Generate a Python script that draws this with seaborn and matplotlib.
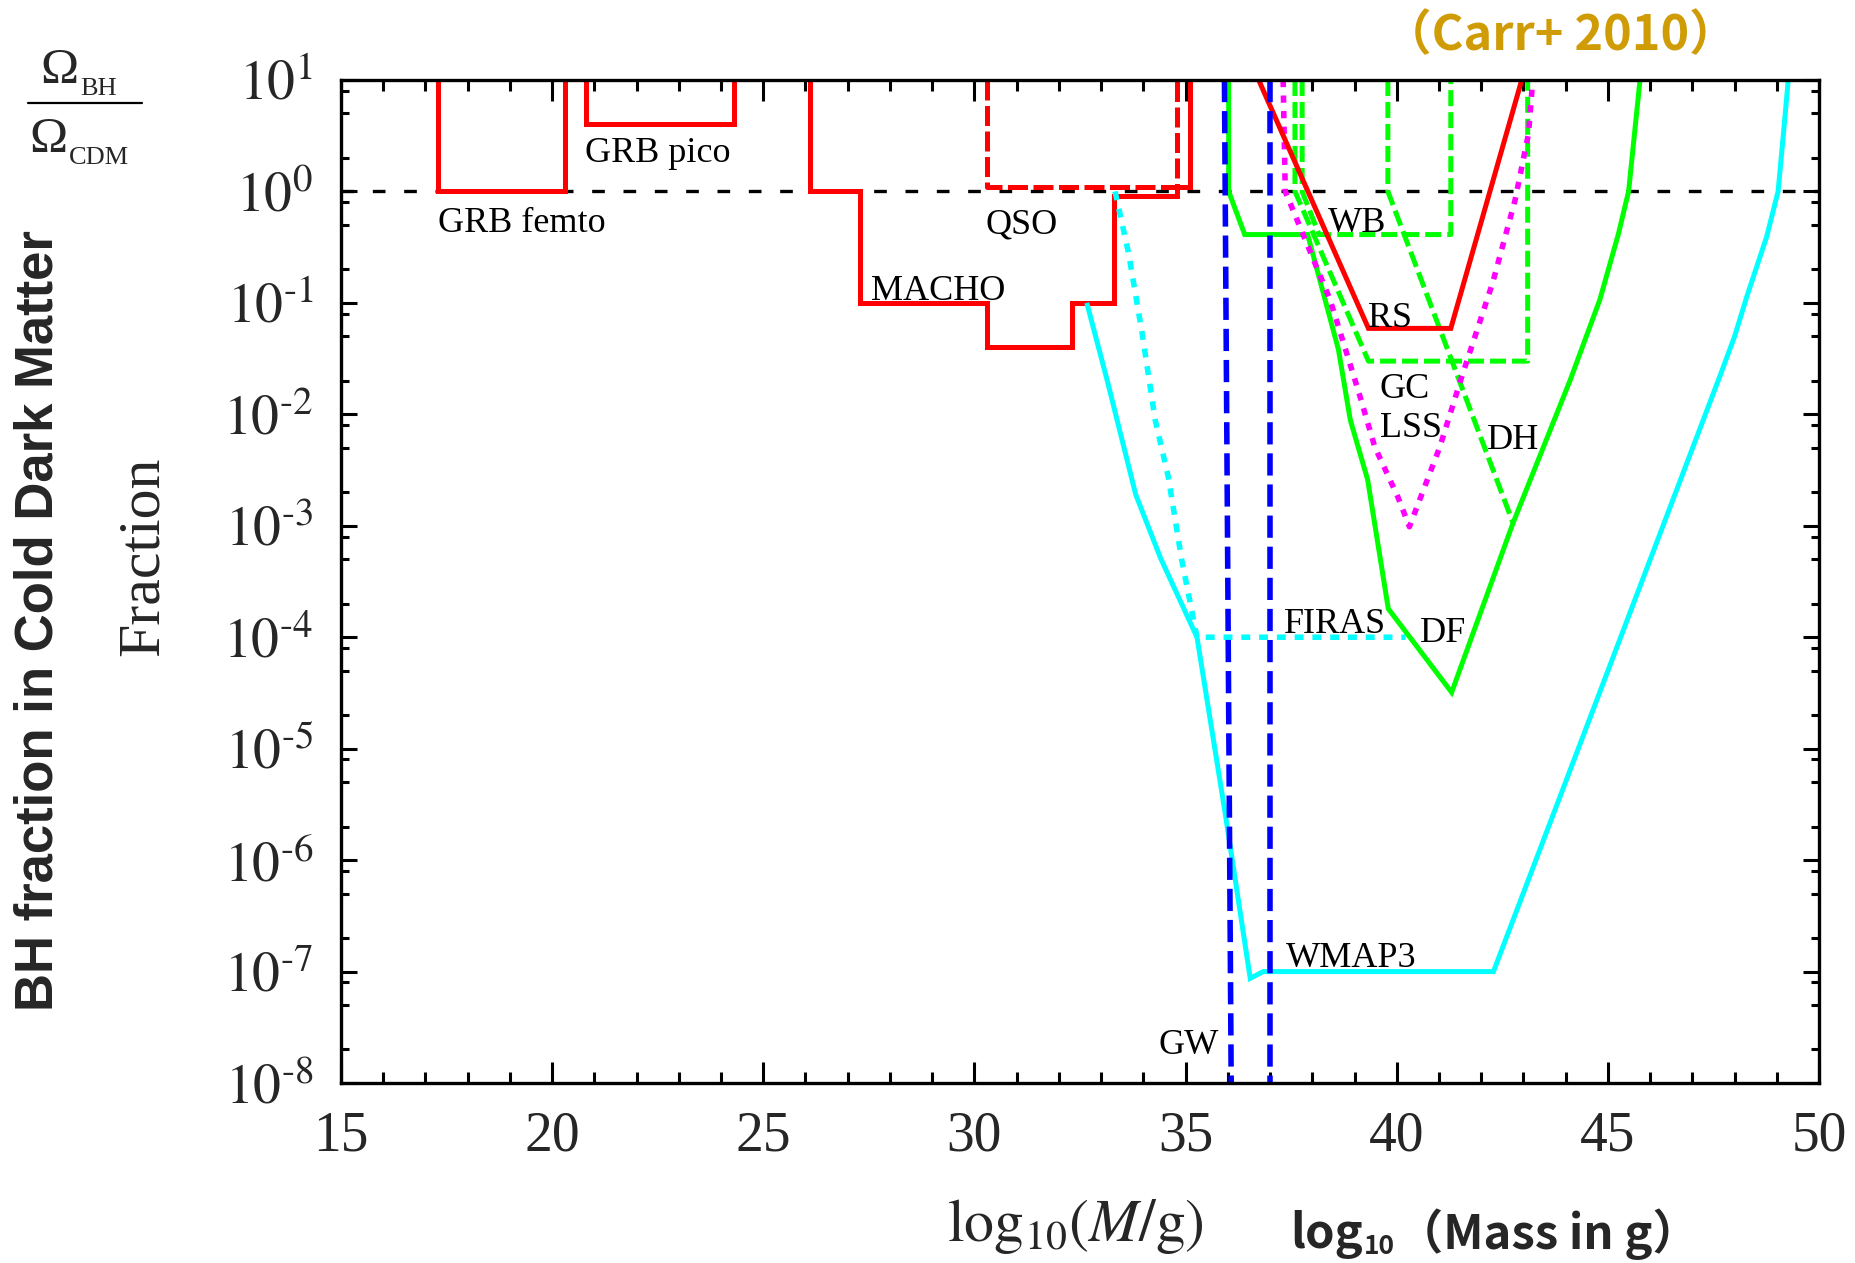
import matplotlib
matplotlib.use("Agg")
import matplotlib.pyplot as plt
import numpy as np
import pandas as pd
import seaborn as sns
from matplotlib.ticker import LogLocator, NullFormatter
from matplotlib.lines import Line2D

# ---------------- constraint curves: log10(M/g) and fraction f ----------------
grb_femto_m = [17.3, 17.3, 20.3, 20.3]
grb_femto_f = [10, 1.0, 1.0, 10]

grb_pico_m = [20.8, 20.8, 24.3, 24.3]
grb_pico_f = [10, 4.0, 4.0, 10]

macho_m = [26.1, 26.1, 27.3, 27.3, 30.3, 30.3, 32.3, 32.3, 33.3, 33.3, 34.8, 34.8, 35.1, 35.1]
macho_f = [10, 1.0, 1.0, 0.1, 0.1, 0.04, 0.04, 0.1, 0.1, 0.91, 0.91, 1.1, 1.1, 10]

qso_m = [30.3, 30.3, 34.8, 34.8]
qso_f = [10, 1.1, 1.1, 10]

rs_m = [36.73, 39.33, 41.28, 42.96]
rs_f = [10, 0.059, 0.059, 10]

wmap3_m = [32.66, 33.14, 33.82, 34.41, 35.27, 35.94, 36.53, 36.84, 42.29, 44.74,
           47.65, 48.0, 48.29, 48.76, 49.03, 49.15, 49.27]
wmap3_f = [0.1, 0.0204, 1.9e-3, 5.1e-4, 1.0e-4, 2.6e-6, 8.7e-8, 1.0e-7, 1.0e-7, 2.75e-5,
           0.0219, 0.050, 0.114, 0.393, 1.0, 3.1, 10]

firas_m = [33.33, 33.65, 33.97, 34.28, 34.59, 34.91, 35.27, 40.21]
firas_f = [1.0, 0.279, 0.0537, 8.9e-3, 2.75e-3, 4.9e-4, 1.0e-4, 1.0e-4]

gw_a_m = [35.92, 36.08]
gw_a_f = [10, 1e-8]
gw_b_m = [37.0, 37.0]
gw_b_f = [10, 1e-8]

df_m = [36.02, 36.02, 36.40, 37.89, 38.62, 38.90, 39.31, 39.80, 41.30, 42.75,
        44.11, 44.81, 45.25, 45.49, 45.76]
df_f = [10, 1.0, 0.41, 0.41, 0.038, 8.9e-3, 2.6e-3, 1.8e-4, 3.2e-5, 1.05e-3,
        0.0204, 0.107, 0.417, 1.0, 10]

wb_m = [37.76, 37.76, 38.16, 41.28, 41.28]
wb_f = [10, 1.0, 0.41, 0.41, 10]

gc_m = [37.59, 37.59, 39.33, 43.10, 43.10]
gc_f = [10, 1.0, 0.03, 0.03, 10]

dh_m = [39.79, 39.79, 42.75]
dh_f = [10, 1.0, 1.07e-3]

lss_m = [37.31, 37.36, 38.42, 39.10, 39.48, 40.03, 40.30, 41.02, 41.55, 42.27, 42.80, 43.12, 43.22]
lss_f = [10, 1.0, 0.107, 0.0158, 5.1e-3, 1.8e-3, 9.8e-4, 5.1e-3, 0.0224, 0.151, 0.83, 3.3, 10]

unity_m = [15, 50]
unity_f = [1.0, 1.0]

# curve labels: text, log10(M/g) of left edge, f at baseline
label_text = ["GRB femto", "GRB pico", "QSO", "MACHO", "WB", "RS", "GC", "LSS",
              "DH", "FIRAS", "DF", "WMAP3", "GW"]
label_m = [17.30, 20.77, 30.27, 27.56, 38.37, 39.33, 39.58, 39.61,
           42.13, 37.34, 40.56, 37.37, 34.37]
label_f = [10 ** -0.364, 10 ** 0.262, 10 ** -0.375, 10 ** -0.970, 10 ** -0.364,
           10 ** -1.214, 10 ** -1.851, 10 ** -2.202, 10 ** -2.308, 10 ** -3.965,
           10 ** -4.04, 10 ** -6.96, 10 ** -7.736]

x_ticks = [15, 20, 25, 30, 35, 40, 45, 50]
y_exponents = [-8, -7, -6, -5, -4, -3, -2, -1, 0, 1]

# ---------------- style ----------------
sns.set_theme(style="ticks")
plt.rcParams["font.family"] = ["Liberation Serif", "DejaVu Serif"]
plt.rcParams["mathtext.fontset"] = "stix"
plt.rcParams["axes.linewidth"] = 2.4

RED, CYAN, BLUE, GREEN, MAGENTA = "#FF0000", "#00FFFF", "#0000FF", "#00FF00", "#FF00FF"
LW = 3.6
SOLID = "-"
DASH_G = (0, (3.2, 1.2))
DASH_R = (0, (4.0, 1.1))
DASH_B = (0, (4.0, 1.6))
DOT_C = (0, (1.6, 1.6))
DOT_M = (0, (1.3, 1.5))

fig = plt.figure(figsize=(18.56, 12.63), dpi=100)
ax = fig.add_axes([0.1837, 0.1425, 0.7964, 0.7942])
ax.set_yscale("log")


def draw(m, f, color, ls, lw=LW):
    frame = pd.DataFrame({"logM": m, "f": f})
    sns.lineplot(data=frame, x="logM", y="f", sort=False, estimator=None,
                 color=color, linestyle=ls, linewidth=lw, ax=ax,
                 solid_joinstyle="miter", dash_capstyle="butt", solid_capstyle="butt")


draw(unity_m, unity_f, "black", (0, (3.8, 5.6)), lw=2.4)

draw(grb_femto_m, grb_femto_f, RED, SOLID)
draw(grb_pico_m, grb_pico_f, RED, SOLID)
draw(macho_m, macho_f, RED, SOLID)
draw(qso_m, qso_f, RED, DASH_R)
draw(wmap3_m, wmap3_f, CYAN, SOLID)
draw(firas_m, firas_f, CYAN, DOT_C, lw=4.0)
draw(df_m, df_f, GREEN, SOLID)
draw(wb_m, wb_f, GREEN, DASH_G)
draw(gc_m, gc_f, GREEN, DASH_G)
draw(dh_m, dh_f, GREEN, DASH_G)
draw(lss_m, lss_f, MAGENTA, DOT_M, lw=4.0)
draw(rs_m, rs_f, RED, SOLID)
draw(gw_a_m, gw_a_f, BLUE, DASH_B, lw=4.0)
draw(gw_b_m, gw_b_f, BLUE, DASH_B, lw=4.0)

for txt, m, f in zip(label_text, label_m, label_f):
    ax.text(m, f, txt, fontsize=26, ha="left", va="baseline",
            family="Liberation Serif", color="black")

# ---------------- axes ----------------
ax.set_xlim(15, 50)
ax.set_ylim(1e-8, 10)
ax.set_xlabel("")
ax.set_ylabel("")
ax.set_xticks(x_ticks)
ax.set_xticklabels([str(v) for v in x_ticks])
ax.set_xticks(np.arange(15, 51, 1), minor=True)
ax.set_yticks([10.0 ** k for k in y_exponents])
ax.set_yticklabels([r"$10^{\text{%d}}$" % k for k in y_exponents])
ax.yaxis.set_minor_locator(LogLocator(base=10, subs=(2, 5, 8), numticks=30))
ax.yaxis.set_minor_formatter(NullFormatter())
for sp in ax.spines.values():
    sp.set_visible(True)
    sp.set_color("black")
    sp.set_linewidth(2.4)

ax.tick_params(which="both", direction="in", top=True, right=True,
               width=2.2, color="black")
ax.tick_params(axis="x", which="major", length=15, pad=20, labelsize=40)
ax.tick_params(axis="x", which="minor", length=8)
ax.tick_params(axis="y", which="major", length=11.5, pad=20, labelsize=40)
ax.tick_params(axis="y", which="minor", length=6)
for lbl in ax.get_xticklabels():
    lbl.set_family("Liberation Serif")

# ---------------- axis titles ----------------
fig.text(0.0776, 0.5598, "Fraction", rotation=90, fontsize=43,
         family="Liberation Serif", ha="center", va="center")
fig.text(0.0205, 0.5083, "BH fraction in Cold Dark Matter", rotation=90,
         fontsize=38, fontweight="bold", family=["Liberation Sans", "DejaVu Sans"],
         ha="center", va="center")
fig.text(0.510, 0.0175, r"$\mathrm{log}_{10}(M/\mathrm{g})$", fontsize=43,
         ha="left", va="baseline")

cjk = ["Noto Sans CJK SC", "DejaVu Sans"]
t_log = fig.text(0.695, 0.0115, "log", fontsize=34, fontweight="bold",
                 family=cjk, ha="left", va="baseline")
ann_sub = ax.annotate("10", xy=(1.0, 0.0), xycoords=t_log, xytext=(1, 4),
                      textcoords="offset points", fontsize=19, fontweight="bold",
                      family=cjk, ha="left", va="baseline", annotation_clip=False)
ax.annotate("（Mass in g）", xy=(1.0, 0.0), xycoords=ann_sub, xytext=(1, 0),
            textcoords="offset points", fontsize=34, fontweight="bold",
            family=cjk, ha="left", va="bottom", annotation_clip=False)

fig.text(0.745, 0.960, "（Carr+ 2010）", fontsize=35, fontweight="bold",
         family=cjk, color="#D09C05", ha="left", va="baseline")

# ---------------- Omega_BH / Omega_CDM ----------------
om_top = fig.text(0.0220, 0.9343, "Ω", fontsize=37, family="Liberation Serif",
                  ha="left", va="baseline")
ax.annotate("BH", xy=(1.0, 0.0), xycoords=om_top, xytext=(1, -1),
            textcoords="offset points", fontsize=19, family="Liberation Serif",
            ha="left", va="baseline", annotation_clip=False)
om_bot = fig.text(0.0160, 0.8797, "Ω", fontsize=37, family="Liberation Serif",
                  ha="left", va="baseline")
ax.annotate("CDM", xy=(1.0, 0.0), xycoords=om_bot, xytext=(1, -1),
            textcoords="offset points", fontsize=19, family="Liberation Serif",
            ha="left", va="baseline", annotation_clip=False)
fig.add_artist(Line2D([0.0151, 0.0765], [0.9187, 0.9187], color="black",
                      linewidth=1.6, transform=fig.transFigure))

fig.savefig("out.png", dpi=100)
